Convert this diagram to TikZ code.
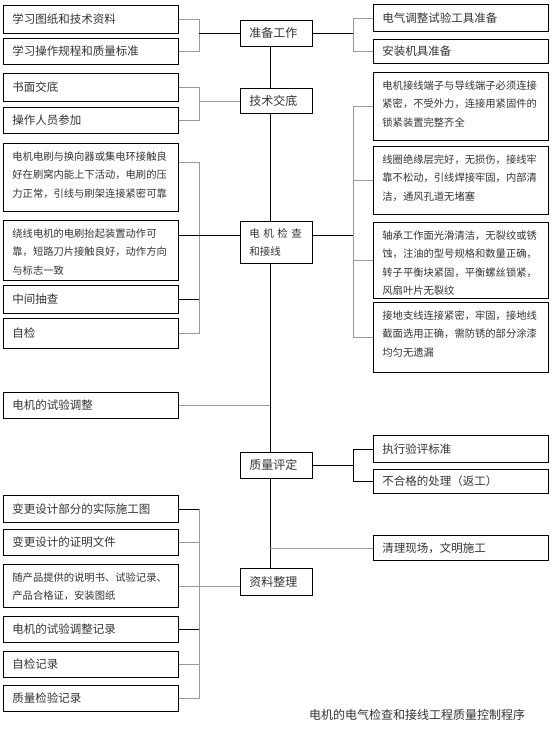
\documentclass[tikz,border=0pt]{standalone}
\usepackage{fontspec}
\newfontfamily\cjk{Noto Sans CJK SC}
\definecolor{qLine}{HTML}{9A9A9A}
\definecolor{qText}{HTML}{333333}
\newcommand{\toptext}[2]{\parbox[c][#1][t]{157pt}{#2}}

\begin{document}
\begin{tikzpicture}[
  x=1pt, y=-1pt,
  every node/.style={font=\cjk, text=qText},
  box/.style={draw, line width=0.8pt, anchor=north west, minimum width=175pt,
              text width=157pt, inner xsep=9pt, inner ysep=0pt, align=left,
              font=\cjk\fontsize{11.5}{14}\selectfont},
  tall/.style={box, inner ysep=8pt, font=\cjk\fontsize{10.3}{18.5}\selectfont},
  stage/.style={draw, line width=0.8pt, anchor=north west, minimum width=72pt,
                text width=54pt, inner xsep=9pt, inner ysep=0pt, align=left,
                font=\cjk\fontsize{12}{16}\selectfont},
  link/.style={draw=black, line width=0.8pt},
  glink/.style={draw=qLine, line width=0.8pt},
]
  \useasboundingbox (0,0) rectangle (554,734);
  \coordinate (spine) at (270,0);
  \coordinate (lbar) at (199,0);
  \coordinate (rbar) at (353,0);

  % Stages
  \node[stage, minimum height=26pt] (prep) at (240,20) {准备工作};
  \node[stage, minimum height=25pt] (tech) at (240,88) {技术交底};
  \node[stage, minimum height=42pt, font=\cjk\fontsize{10.5}{18}\selectfont]
    (check) at (240,221) {电 机 检 查\\和接线};
  \node[stage, minimum height=26pt] (qual) at (240,452) {质量评定};
  \node[stage, minimum height=27pt] (doc) at (240,568) {资料整理};

  % Preparation
  \node[box, minimum height=28pt] (s1) at (3,5) {学习图纸和技术资料};
  \node[box, minimum height=26pt] (s2) at (3,38) {学习操作规程和质量标准};
  \node[box, minimum height=27pt] (e1) at (373,4) {电气调整试验工具准备};
  \node[box, minimum height=24pt] (e2) at (373,39) {安装机具准备};

  % Technical briefing
  \node[box, minimum height=28pt] (t1) at (3,73) {书面交底};
  \node[box, minimum height=26pt] (t2) at (3,107) {操作人员参加};

  % Inspection and wiring
  \node[tall] (l1) at (3,143) {\toptext{52pt}{电机电刷与换向器或集电环接触良\\
    好在刷窝内能上下活动，电刷的压\\力正常，引线与刷架连接紧密可靠}};
  \node[tall] (l2) at (3,220) {\toptext{44pt}{绕线电机的电刷抬起装置动作可\\
    靠，短路刀片接触良好，动作方向\\与标志一致}};
  \node[box, minimum height=28pt] (mid) at (3,285) {中间抽查};
  \node[box, minimum height=30pt] (self) at (3,318) {自检};
  \node[tall] (term) at (373,72) {\toptext{52pt}{电机接线端子与导线端子必须连接\\
    紧密，不受外力，连接用紧固件的\\锁紧装置完整齐全}};
  \node[tall] (coil) at (373,146) {\toptext{52pt}{线圈绝缘层完好，无损伤，接线牢\\
    靠不松动，引线焊接牢固，内部清\\洁，通风孔道无堵塞}};
  \node[tall] (bear) at (373,222) {\toptext{60pt}{轴承工作面光滑清洁，无裂纹或锈\\
    蚀，注油的型号规格和数量正确，\\转子平衡块紧固，平衡螺丝锁紧，\\风扇叶片无裂纹}};
  \node[tall] (earth) at (373,302) {\toptext{54pt}{接地支线连接紧密，牢固，接地线\\
    截面选用正确，需防锈的部分涂漆\\均匀无遗漏}};

  % Trial
  \node[box, minimum height=26pt] (trial) at (3,392) {电机的试验调整};

  % Quality
  \node[box, minimum height=27pt] (std) at (373,435) {执行验评标准};
  \node[box, minimum height=24pt] (redo) at (373,469) {不合格的处理（返工）};
  \node[box, minimum height=25pt] (clean) at (373,535) {清理现场，文明施工};

  % Records
  \node[box, minimum height=27pt] (d1) at (3,495) {变更设计部分的实际施工图};
  \node[box, minimum height=26pt] (d2) at (3,529) {变更设计的证明文件};
  \node[tall] (d3) at (3,564) {\toptext{27pt}{随产品提供的说明书、试验记录、\\
    产品合格证，安装图纸}};
  \node[box, minimum height=26pt] (d4) at (3,616) {电机的试验调整记录};
  \node[box, minimum height=26pt] (d5) at (3,651) {自检记录};
  \node[box, minimum height=26pt] (d6) at (3,685) {质量检验记录};

  \node[font=\cjk\fontsize{12}{14}\selectfont] (title) at (417,715)
    {电机的电气检查和接线工程质量控制程序};

  % Spine
  \draw[link] (prep.south -| spine) -- (tech.north -| spine);
  \draw[link] (tech.south -| spine) -- (check.north -| spine);
  \draw[link] (check.south -| spine) -- (qual.north -| spine);
  \draw[link] (qual.south -| spine) -- (doc.north -| spine);

  % Preparation links
  \draw[glink] (s1.east) -- (s1.east -| lbar) -- (s2.east -| lbar) -- (s2.east);
  \draw[link] (prep.west -| lbar) -- (prep.west);
  \draw[glink] (e1.west) -- (e1.west -| rbar) -- (e2.west -| rbar) -- (e2.west);
  \draw[link] (prep.east) -- (prep.east -| rbar);

  % Briefing links
  \draw[glink] (t1.east) -- (t1.east -| lbar) -- (t2.east -| lbar) -- (t2.east);
  \draw[glink] (tech.west -| lbar) -- (tech.west);

  % Inspection links
  \draw[glink] (term.west) -- (term.west -| rbar) -- (earth.west -| rbar) -- (earth.west);
  \draw[glink] (coil.west) -- (coil.west -| rbar);
  \draw[glink] (bear.west) -- (bear.west -| rbar);
  \draw[link] ([yshift=7pt]check.east) -- ([yshift=7pt]check.east -| rbar);
  \draw[glink] ([yshift=15pt]l1.east) -- ([yshift=15pt]l1.east -| lbar)
    -- (self.east -| lbar) -- (self.east);
  \draw[link] ([yshift=7pt]check.west -| l2.east) -- ([yshift=7pt]check.west);
  \draw[link] (mid.east) -- (mid.east -| lbar);

  % Trial link
  \draw[glink] (trial.east) -- (trial.east -| spine);

  % Quality links
  \draw[link] (std.west) -- (std.west -| rbar) -- (redo.west -| rbar) -- (redo.west);
  \draw[link] (qual.east) -- (qual.east -| rbar);
  \draw[glink] (clean.west -| spine) -- (clean.west);

  % Records links
  \draw[glink] (d1.east -| lbar) -- (d6.east -| lbar) -- (d6.east);
  \draw[link] (d1.east) -- (d1.east -| lbar);
  \draw[glink] (d2.east) -- (d2.east -| lbar);
  \draw[glink] (d3.east) -- (d3.east -| doc.west);
  \draw[link] (d4.east) -- (d4.east -| lbar);
  \draw[glink] (d5.east) -- (d5.east -| lbar);
\end{tikzpicture}
\end{document}
